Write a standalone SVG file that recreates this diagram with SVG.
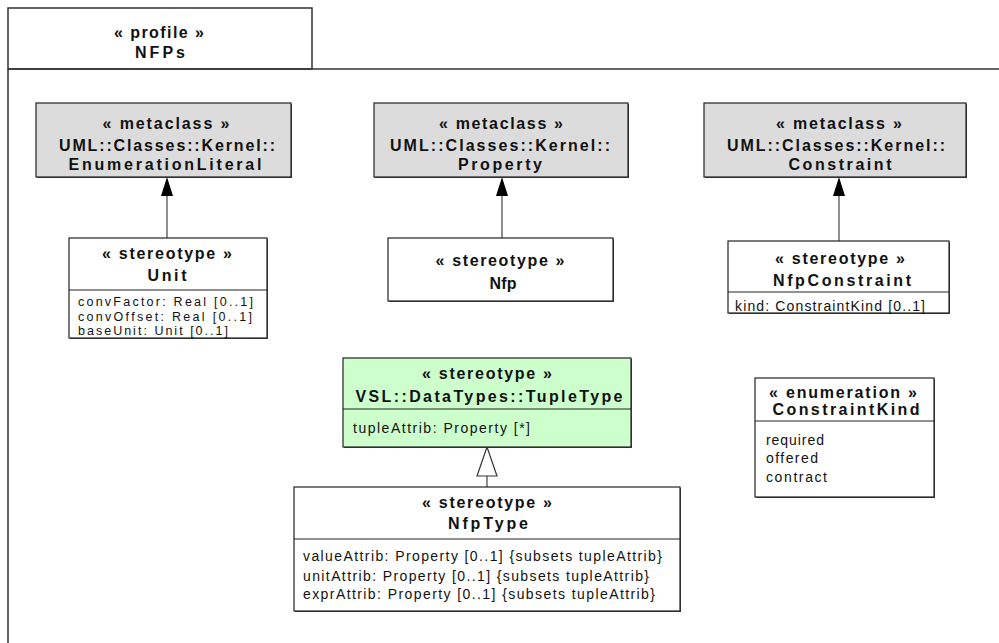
<svg xmlns="http://www.w3.org/2000/svg" width="999" height="643" viewBox="0 0 999 643">
<defs>
<style>
.frame{fill:none;stroke:#333;stroke-width:1.5}
.box{stroke:#222;stroke-width:1.2}
.meta{fill:#dcdcdc}
.white{fill:#fff}
.green{fill:#ccffcc}
.sh{fill:#444}
.div{stroke:#222;stroke-width:1}
.h{font-family:"Liberation Sans",Arial,sans-serif;font-weight:bold;font-size:16px;fill:#111;text-anchor:middle}
.a{font-family:"Liberation Sans",Arial,sans-serif;font-size:14px;fill:#111}
.s{font-size:12.5px}
.con{stroke:#444;stroke-width:1.2;fill:none}
</style>
</defs>
<g id="profile">
<rect x="8" y="8" width="304" height="61" fill="#fff" class="frame"/>
<path d="M8,69 H999 M8,69 V643" class="frame"/>
<text class="h" x="159" y="38" textLength="90">« profile »</text>
<text class="h" x="160" y="58" textLength="50">NFPs</text>
</g>
<g id="connectors">
<line x1="167" y1="238" x2="167" y2="190" class="con"/>
<path d="M161,196 L167,177 L173,196 Z" fill="#000"/>
<line x1="502" y1="238" x2="502" y2="190" class="con"/>
<path d="M496,196 L502,177 L508,196 Z" fill="#000"/>
<line x1="839" y1="241" x2="839" y2="190" class="con"/>
<path d="M833,196 L839,177 L845,196 Z" fill="#000"/>
<line x1="487" y1="487" x2="487" y2="476" class="con"/>
<path d="M477,476 L487,447 L497,476 Z" fill="#fff" stroke="#333" stroke-width="1.2"/>
</g>
<g id="mc-enumlit">
<rect x="37" y="104" width="255" height="74" class="sh"/>
<rect x="36" y="103" width="255" height="74" class="box meta"/>
<text class="h" x="166" y="129" textLength="127">« metaclass »</text>
<text class="h" x="167" y="151" textLength="216">UML::Classes::Kernel::</text>
<text class="h" x="165" y="170" textLength="193">EnumerationLiteral</text>
</g>
<g id="mc-property">
<rect x="375" y="104" width="254" height="74" class="sh"/>
<rect x="374" y="103" width="254" height="74" class="box meta"/>
<text class="h" x="501" y="129" textLength="124">« metaclass »</text>
<text class="h" x="500" y="151" textLength="220">UML::Classes::Kernel::</text>
<text class="h" x="500" y="170" textLength="84">Property</text>
</g>
<g id="mc-constraint">
<rect x="705" y="104" width="262" height="74" class="sh"/>
<rect x="704" y="103" width="262" height="74" class="box meta"/>
<text class="h" x="839" y="129" textLength="126">« metaclass »</text>
<text class="h" x="836" y="151" textLength="218">UML::Classes::Kernel::</text>
<text class="h" x="840" y="170" textLength="103">Constraint</text>
</g>
<g id="unit">
<rect x="70" y="239" width="198" height="100" class="sh"/>
<rect x="69" y="238" width="198" height="100" class="box white"/>
<line x1="69" y1="290" x2="267" y2="290" class="div"/>
<text class="h" x="167" y="259" textLength="130">« stereotype »</text>
<text class="h" x="167" y="281" textLength="39">Unit</text>
<text class="a s" x="78" y="306" textLength="175">convFactor: Real [0..1]</text>
<text class="a s" x="78" y="321" textLength="174">convOffset: Real [0..1]</text>
<text class="a s" x="78" y="335" textLength="150">baseUnit: Unit [0..1]</text>
</g>
<g id="nfp">
<rect x="389" y="239" width="225" height="63" class="sh"/>
<rect x="388" y="238" width="225" height="63" class="box white"/>
<text class="h" x="500" y="266" textLength="129">« stereotype »</text>
<text class="h" x="503" y="289" textLength="27">Nfp</text>
</g>
<g id="nfpconstraint">
<rect x="729" y="242" width="221" height="72" class="sh"/>
<rect x="728" y="241" width="221" height="72" class="box white"/>
<line x1="728" y1="292" x2="949" y2="292" class="div"/>
<text class="h" x="840" y="264" textLength="130">« stereotype »</text>
<text class="h" x="842" y="286" textLength="138">NfpConstraint</text>
<text class="a" x="735" y="311" textLength="190">kind: ConstraintKind [0..1]</text>
</g>
<g id="tupletype">
<rect x="344" y="359" width="288" height="89" class="sh"/>
<rect x="343" y="358" width="288" height="89" class="box green"/>
<line x1="343" y1="409" x2="631" y2="409" class="div"/>
<text class="h" x="487" y="379" textLength="130">« stereotype »</text>
<text class="h" x="489" y="402" textLength="267">VSL::DataTypes::TupleType</text>
<text class="a" x="353" y="433" textLength="177">tupleAttrib: Property [*]</text>
</g>
<g id="nfptype">
<rect x="295" y="488" width="386" height="124" class="sh"/>
<rect x="294" y="487" width="386" height="124" class="box white"/>
<line x1="294" y1="539" x2="680" y2="539" class="div"/>
<text class="h" x="487" y="508" textLength="130">« stereotype »</text>
<text class="h" x="488" y="529" textLength="80">NfpType</text>
<text class="a" x="303" y="561" textLength="359">valueAttrib: Property [0..1] {subsets tupleAttrib}</text>
<text class="a" x="303" y="581" textLength="346">unitAttrib: Property [0..1] {subsets tupleAttrib}</text>
<text class="a" x="303" y="599" textLength="352">exprAttrib: Property [0..1] {subsets tupleAttrib}</text>
</g>
<g id="constraintkind">
<rect x="756" y="379" width="179" height="119" class="sh"/>
<rect x="755" y="378" width="179" height="119" class="box white"/>
<line x1="755" y1="421" x2="934" y2="421" class="div"/>
<text class="h" x="843" y="398" textLength="148">« enumeration »</text>
<text class="h" x="846" y="415" textLength="147">ConstraintKind</text>
<text class="a" x="766" y="445" textLength="58">required</text>
<text class="a" x="766" y="463" textLength="52">offered</text>
<text class="a" x="766" y="482" textLength="61">contract</text>
</g>
</svg>
